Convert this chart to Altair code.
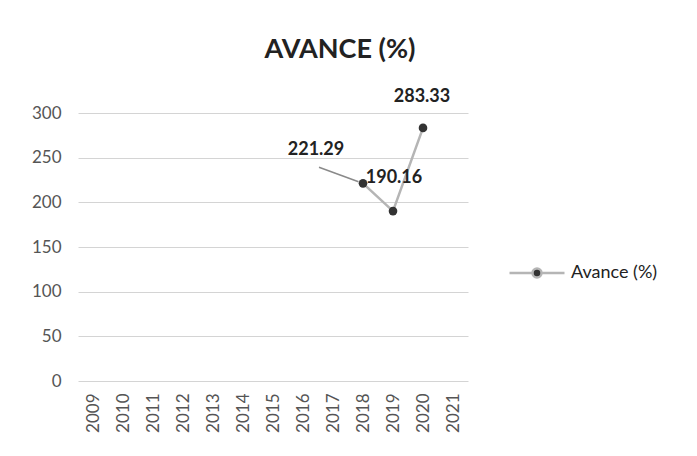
import altair as alt
import pandas as pd

# ---- data ----
years = ["2009", "2010", "2011", "2012", "2013", "2014", "2015",
         "2016", "2017", "2018", "2019", "2020", "2021"]
avance_years = ["2018", "2019", "2020"]
avance_values = [221.29, 190.16, 283.33]
avance_labels = ["221.29", "190.16", "283.33"]
y_ticks = [0, 50, 100, 150, 200, 250, 300]
chart_title = "AVANCE (%)"
series_name = "Avance (%)"

df = pd.DataFrame({
    "year": avance_years,
    "value": avance_values,
    "label": avance_labels,
    "serie": [series_name] * len(avance_years),
})

FONT = "Lato"
LINE_COLOR = "#b5b5b5"
DOT_COLOR = "#333333"

x_enc = alt.X("year:O",
              scale=alt.Scale(type="point", padding=0.5, domain=years),
              axis=alt.Axis(title=None, labelAngle=-90, grid=False, ticks=False,
                            domain=False, labelPadding=12, labelFontSize=17,
                            labelFont=FONT, labelColor="#555555"))
y_enc = alt.Y("value:Q",
              scale=alt.Scale(domain=[0, 300], nice=False),
              axis=alt.Axis(title=None, values=y_ticks, grid=True, ticks=False,
                            domain=False, labelPadding=17, labelFontSize=17,
                            labelFont=FONT, labelColor="#555555",
                            gridColor="#d4d4d4", gridWidth=1))

base = alt.Chart(df).encode(x=x_enc, y=y_enc)

line = base.mark_line(color=LINE_COLOR, strokeWidth=2.5)

legend_path = ("M-5.5,0H-0.9M0.9,0H5.5"
               "M-0.9,0A0.9,0.9 0 1,1 0.9,0A0.9,0.9 0 1,1 -0.9,0Z")

points = base.mark_point(filled=True, size=75, opacity=1).encode(
    fill=alt.Fill("serie:N", scale=alt.Scale(range=[DOT_COLOR]),
                  legend=alt.Legend(title=None, orient="none",
                                    legendX=450, legendY=151,
                                    symbolType=legend_path, symbolSize=100,
                                    symbolStrokeColor=LINE_COLOR,
                                    symbolStrokeWidth=2.5, symbolOpacity=1,
                                    labelOffset=25, labelFontSize=18,
                                    labelFont=FONT, labelColor="#222222"))
)

# leader line for the moved 2018 label
leader = base.transform_filter(alt.datum.year == "2018").mark_point(
    shape="M-4.4,-1.6L-0.45,-0.15", size=400, filled=False,
    stroke="#8a8a8a", strokeWidth=1.5, opacity=1)

label_style = dict(fontSize=18, fontWeight="bold", font=FONT, color="#222222")
lab_2018 = base.transform_filter(alt.datum.year == "2018").mark_text(
    dx=-47, dy=-33, **label_style).encode(text="label:N")
lab_2019 = base.transform_filter(alt.datum.year == "2019").mark_text(
    dx=1, dy=-33, **label_style).encode(text="label:N")
lab_2020 = base.transform_filter(alt.datum.year == "2020").mark_text(
    dx=-1, dy=-31, **label_style).encode(text="label:N")

chart = alt.layer(line, leader, points, lab_2018, lab_2019, lab_2020).properties(
    width=390, height=268,
    title=alt.Title(chart_title, fontSize=27, font=FONT, fontWeight="bold",
                    color="#222222", anchor="middle", dx=67, offset=24),
    padding={"left": 70, "top": 105, "right": 221, "bottom": 67},
    autosize=alt.AutoSizeParams(type="none"),
).configure(background="white").configure_view(stroke=None)

chart.save("out.html", embed_options={"renderer": "svg", "actions": False})
